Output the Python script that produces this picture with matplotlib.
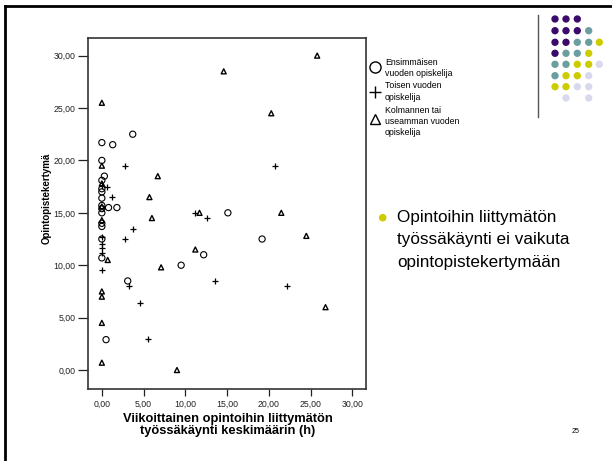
import matplotlib
matplotlib.use("Agg")
import matplotlib.pyplot as plt

plt.rcParams['font.family'] = ['Liberation Sans', 'DejaVu Sans']

# ---- data ----
first_x = [0, 1.3, 3.7, 0, 0.3, 0, 0, 0, 0, 0, 0, 0.8, 1.8, 0, 0, 0, 0, 0, 15.1, 19.2, 12.2, 9.5, 3.1, 0.5]
first_y = [21.7, 21.5, 22.5, 20.0, 18.5, 18.1, 17.3, 17.0, 16.4, 15.7, 15.4, 15.5, 15.5, 15.0, 14.0, 13.7, 12.5, 10.7, 15.0, 12.5, 11.0, 10.0, 8.5, 2.9]

second_x = [2.8, 20.8, 0, 0.6, 1.2, 11.2, 12.6, 3.7, 2.8, 0, 0, 0, 0, 0, 3.2, 13.6, 22.2, 4.6, 5.5]
second_y = [19.5, 19.5, 17.6, 17.5, 16.5, 15.0, 14.5, 13.5, 12.5, 12.7, 12.0, 11.6, 11.2, 9.5, 8.0, 8.5, 8.0, 6.4, 3.0]

third_x = [25.8, 14.6, 0, 20.3, 6.7, 5.7, 0, 0, 0, 0, 11.7, 6.0, 21.5, 24.5, 11.2, 0.7, 7.1, 0, 0, 26.8, 0, 0, 9.0]
third_y = [30.0, 28.5, 25.5, 24.5, 18.5, 16.5, 19.5, 17.8, 15.6, 14.3, 15.0, 14.5, 15.0, 12.8, 11.5, 10.5, 9.8, 7.5, 7.0, 6.0, 4.5, 0.7, 0.0]

ticks = [0, 5, 10, 15, 20, 25, 30]
tick_labels = ["0,00", "5,00", "10,00", "15,00", "20,00", "25,00", "30,00"]

legend_labels = ["Ensimmäisen\nvuoden opiskelija", "Toisen vuoden\nopiskelija",
                 "Kolmannen tai\nuseamman vuoden\nopiskelija"]
x_label = "Viikoittainen opintoihin liittymätön\ntyössäkäynti keskimäärin (h)"
y_label = "Opintopistekertymä"
bullet_lines = ["Opintoihin liittymätön", "työssäkäynti ei vaikuta", "opintopistekertymään"]
page_no = "25"

logo_rows = ["PPP..", "PPPT.", "PPTTY", "PTTY.", "TTYYL", "TYYL.", "YYLL.", ".L.L."]
logo_colors = {"P": "#3b0a6a", "T": "#6a9e9f", "Y": "#cccc00", "L": "#d9d9ee"}

W, H = 612, 461
fig = plt.figure(figsize=(W / 100, H / 100), dpi=100)
fig.patch.set_facecolor("white")

# overlay in pixel coordinates for slide decorations
ov = fig.add_axes([0, 0, 1, 1])
ov.set_xlim(0, W)
ov.set_ylim(H, 0)
ov.axis("off")

# slide border
ov.plot([5, W + 5], [6, 6], color="black", lw=2)
ov.plot([5, 5], [6, H + 5], color="black", lw=2)

# main axes
L, R, T, B = 87.5, 366, 38, 389
ax = fig.add_axes([L / W, (H - B) / H, (R - L) / W, (B - T) / H])
ax.set_xlim(-1.72, 31.65)
ax.set_ylim(-1.81, 31.68)

ax.scatter(first_x, first_y, s=20, marker="o", facecolors="none", edgecolors="black", linewidths=0.8, zorder=3)
ax.scatter(second_x, second_y, s=19, marker="+", color="black", linewidths=0.9, zorder=3)
ax.scatter(third_x, third_y, s=13, marker="^", facecolors="none", edgecolors="black", linewidths=1.0, zorder=3)

ax.set_xticks(ticks)
ax.set_xticklabels(tick_labels, fontsize=6.3, color="#222")
ax.set_yticks(ticks)
ax.set_yticklabels(tick_labels, fontsize=6.3, color="#222")
ax.tick_params(axis="y", length=7.5, width=0.9, pad=1, color="#222")
ax.tick_params(axis="x", length=5, width=0.9, pad=3, color="#222")
for sp in ax.spines.values():
    sp.set_color("#333")
    sp.set_linewidth(1.2)

# axis labels
ov.text(228, 425, x_label, ha="center", va="center", fontsize=9.3, fontweight="bold", linespacing=0.95)
ov.text(46.5, 198, y_label, ha="center", va="center", rotation=90, fontsize=7, fontweight="bold")

# legend
leg_y = [(62.3, 67.3), (86, 91.7), (110, 119.3)]
mk = [("o", dict(markerfacecolor="none", markeredgecolor="black", markersize=8, markeredgewidth=1.0)),
      ("+", dict(color="black", markersize=9, markeredgewidth=1.0)),
      ("^", dict(markerfacecolor="none", markeredgecolor="black", markersize=7.5, markeredgewidth=1.0))]
for (ty, my), lab, (m, kw) in zip(leg_y, legend_labels, mk):
    ov.plot([374.5], [my], marker=m, linestyle="none", **kw)
    for i, ln in enumerate(lab.split("\n")):
        ov.text(385, ty + i * 11, ln, ha="left", va="center", fontsize=6.3)

# bullet text
ov.scatter([382.7], [217.7], s=30, color="#cccc00", edgecolors="none")
for i, ln in enumerate(bullet_lines):
    ov.text(397, 217 + i * 22.5, ln, ha="left", va="center", fontsize=12.3)

# page number
ov.text(576, 431.7, page_no, ha="center", va="center", fontsize=5)

# logo
ov.plot([538.3, 538.3], [15, 116.7], color="#555", lw=1)
col_x = [555, 566, 577.3, 588.7, 599.3]
row_y = [19, 30.7, 42.3, 53.3, 64.3, 75.7, 86.7, 98]
lx, ly, lc = [], [], []
for r, row in enumerate(logo_rows):
    for c, ch in enumerate(row):
        if ch in logo_colors:
            lx.append(col_x[c]); ly.append(row_y[r]); lc.append(logo_colors[ch])
ov.scatter(lx, ly, s=28, c=lc, edgecolors="none")

fig.savefig("out.png", dpi=100, facecolor="white")
